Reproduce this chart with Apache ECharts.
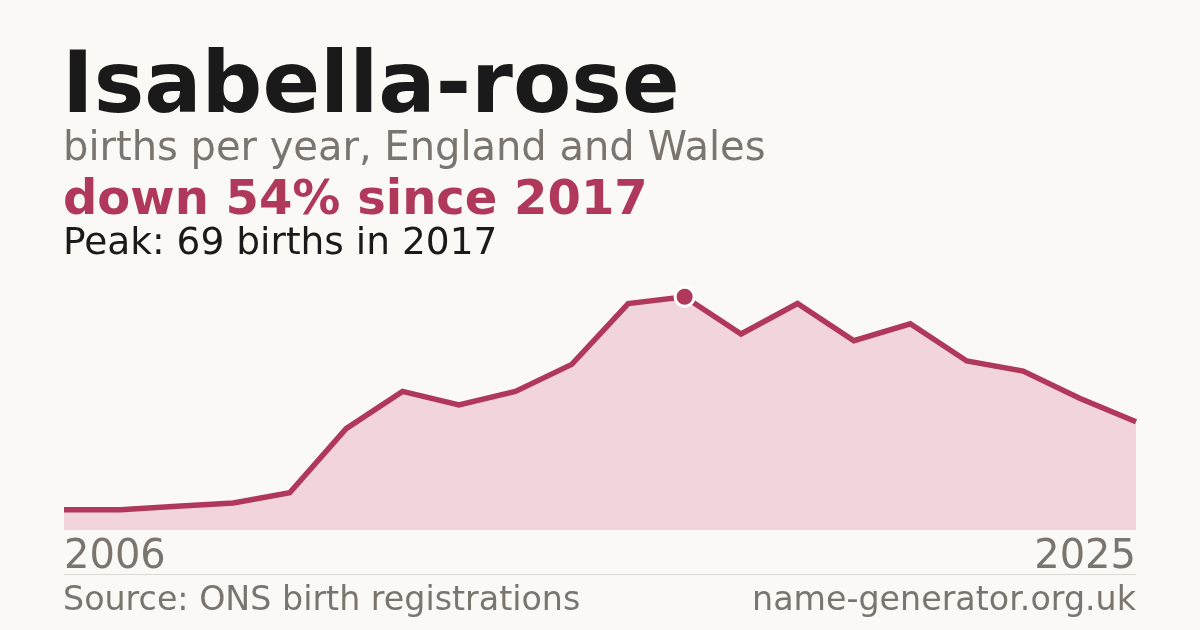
<!DOCTYPE html>
<html>
<head>
<meta charset="utf-8">
<script src="https://cdn.jsdelivr.net/npm/echarts@6/dist/echarts.min.js"></script>
<style>
  html, body { margin: 0; padding: 0; background: #faf9f5; }
  #main { width: 1200px; height: 630px; }
</style>
</head>
<body>
<div id="main"></div>
<script>
var years = ['2006','2007','2008','2009','2010','2011','2012','2013','2014','2015',
             '2016','2017','2018','2019','2020','2021','2022','2023','2024','2025'];
var births = [6, 6, 7, 8, 11, 30, 41, 37, 41, 49, 67, 69, 58, 67, 56, 61, 50, 47, 39, 32];

var red = '#b0385a';
var grey = '#7a756e';
var font = 'DejaVu Sans';

// only the peak gets a marker
var peak = births.indexOf(Math.max.apply(null, births));
var seriesData = births.map(function (v, i) {
    if (i === peak) {
        return {
            value: v,
            symbol: 'circle',
            symbolSize: 19,
            itemStyle: { color: red, borderColor: '#ffffff', borderWidth: 3 }
        };
    }
    return v;
});

var myChart = echarts.init(document.getElementById('main'));
var option = {
    backgroundColor: '#faf9f5',
    animation: false,
    title: [
        {
            text: 'Isabella-rose', left: 62, top: 47, padding: 0,
            textStyle: { fontFamily: font, fontSize: 85, fontWeight: 'bold', color: '#1a1a1a' }
        },
        {
            text: 'births per year, England and Wales', left: 63, top: 130, padding: 0,
            textStyle: { fontFamily: font, fontSize: 40, fontWeight: 'normal', color: grey }
        },
        {
            text: 'down 54% since 2017', left: 63, top: 178, padding: 0,
            textStyle: { fontFamily: font, fontSize: 48, fontWeight: 'bold', color: red }
        },
        {
            text: 'Peak: 69 births in 2017', left: 63, top: 225, padding: 0,
            textStyle: { fontFamily: font, fontSize: 37.5, fontWeight: 'normal', color: '#1a1a1a' }
        },
        {
            text: 'Source: ONS birth registrations', left: 63, top: 585, padding: 0,
            textStyle: { fontFamily: font, fontSize: 33.3, fontWeight: 'normal', color: grey }
        },
        {
            text: 'name-generator.org.uk', right: 64, top: 585, padding: 0,
            textStyle: { fontFamily: font, fontSize: 33.3, fontWeight: 'normal', color: grey }
        }
    ],
    graphic: [
        {
            type: 'line',
            shape: { x1: 64, y1: 574.5, x2: 1136, y2: 574.5 },
            style: { stroke: '#dcd9d2', lineWidth: 1 }
        }
    ],
    grid: { left: 64, right: 64, top: 290, bottom: 100 },
    xAxis: {
        type: 'category',
        boundaryGap: false,
        data: years,
        axisLine: { show: false },
        axisTick: { show: false },
        splitLine: { show: false },
        axisLabel: {
            margin: 8,
            fontFamily: font,
            fontSize: 40,
            color: grey,
            alignMinLabel: 'left',
            alignMaxLabel: 'right',
            interval: function (i) { return i === 0 || i === years.length - 1; }
        }
    },
    yAxis: {
        type: 'value',
        min: 0,
        max: 71,
        show: false,
        splitLine: { show: false }
    },
    series: [
        {
            type: 'line',
            data: seriesData,
            symbol: 'none',
            lineStyle: { color: red, width: 5.5, join: 'miter' },
            areaStyle: { color: '#f1d5da', opacity: 1 },
            z: 3
        }
    ]
};
myChart.setOption(option);
</script>
</body>
</html>
